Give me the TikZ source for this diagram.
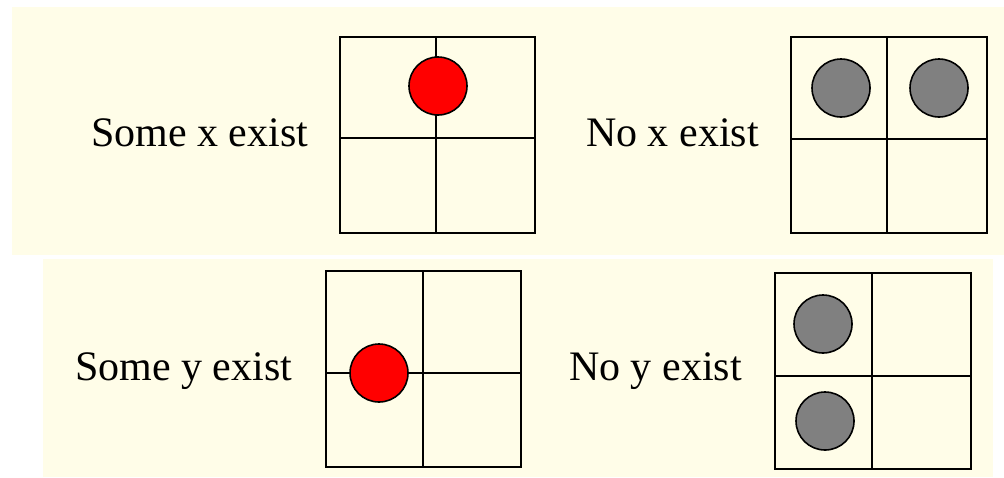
\documentclass[tikz,border=0pt]{standalone}
\usepackage{fontspec}
\setmainfont{Liberation Serif}
\definecolor{panelyellow}{RGB}{255,253,232}
\definecolor{dotred}{RGB}{255,0,0}
\definecolor{dotgray}{RGB}{128,128,128}

\begin{document}
\begin{tikzpicture}[x=0.5pt, y=-0.5pt, line width=1.1pt]
    \tikzset{
        caption/.style={anchor=base west, inner sep=0pt, font=\fontsize{21}{25}\selectfont},
        token/.style={draw=black, line width=0.8pt},
    }
    \useasboundingbox (0,0) rectangle (1004,477);
    % panels
    \fill[panelyellow] (12,7) rectangle (1004,255);
    \fill[panelyellow] (43,259) rectangle (993,477);
    % top row
    \node[caption] (somex) at (90,146) {Some x exist};
    \draw (340,37) rectangle (535,233);
    \draw (436,37) -- (436,233);
    \draw (340,138) -- (535,138);
    \filldraw[token, fill=dotred] (438,86) circle (14.5pt);
    \node[caption] (nox) at (585,146) {No x exist};
    \draw (791,37) rectangle (987,233);
    \draw (887,37) -- (887,233);
    \draw (791,139) -- (987,139);
    \filldraw[token, fill=dotgray] (841,88) circle (14.5pt);
    \filldraw[token, fill=dotgray] (939,88) circle (14.5pt);
    % bottom row
    \node[caption] (somey) at (74,380) {Some y exist};
    \draw (326,271) rectangle (521,467);
    \draw (423,271) -- (423,467);
    \draw (326,373) -- (521,373);
    \filldraw[token, fill=dotred] (379,373) circle (14.5pt);
    \node[caption] (noy) at (568,380) {No y exist};
    \draw (775,273) rectangle (971,469);
    \draw (872,273) -- (872,469);
    \draw (775,376) -- (971,376);
    \filldraw[token, fill=dotgray] (823,324) circle (14.5pt);
    \filldraw[token, fill=dotgray] (825,421) circle (14.5pt);
\end{tikzpicture}
\end{document}
